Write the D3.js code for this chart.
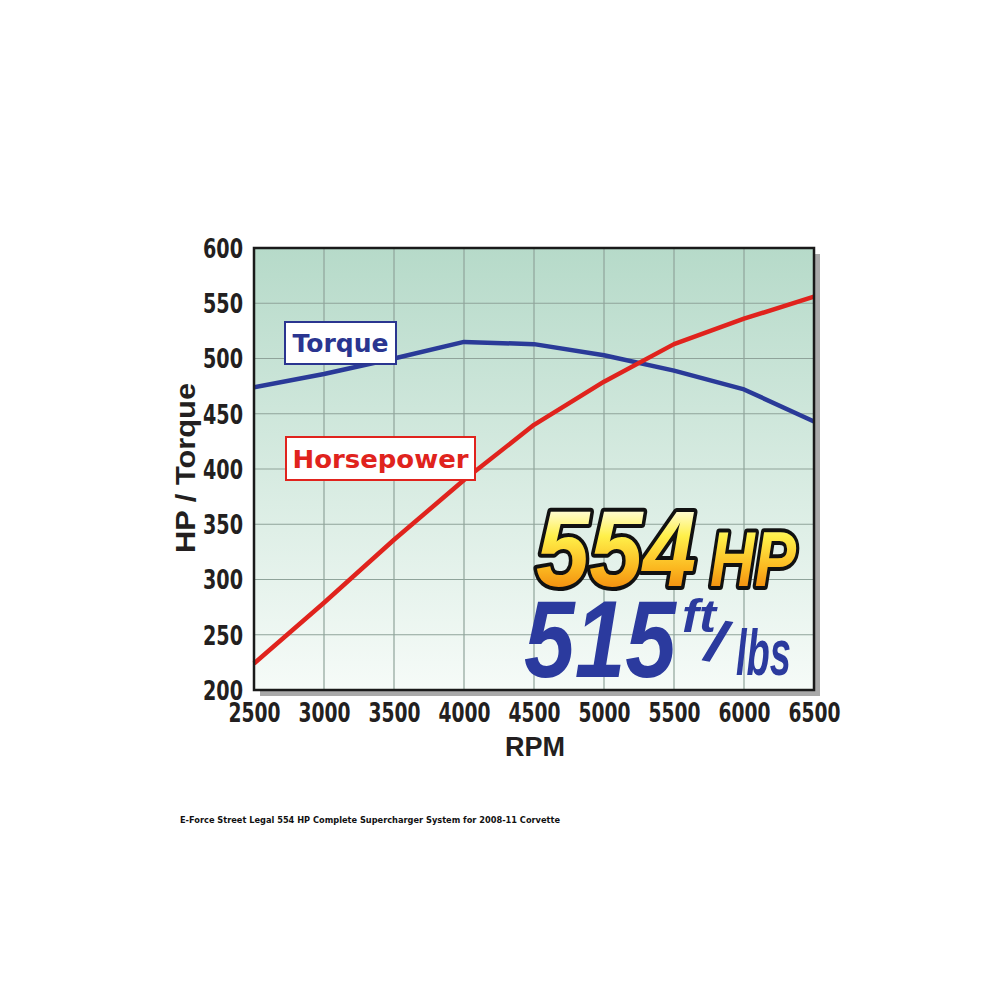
<!DOCTYPE html>
<html>
<head>
<meta charset="utf-8">
<script src="https://cdn.jsdelivr.net/npm/d3@7"></script>
<style>
  html, body { margin: 0; padding: 0; background: #ffffff; }
  svg { display: block; }
</style>
</head>
<body>
<div id="chart"></div>
<script>
// ---- data ----
const rpm = [2500, 3000, 3500, 4000, 4500, 5000, 5500, 6000, 6500];
const torque = [474, 486, 500, 515, 513, 503, 489, 472, 443];
const horsepower = [224, 279, 336, 390, 440, 479, 513, 536, 556];
const xTicks = [2500, 3000, 3500, 4000, 4500, 5000, 5500, 6000, 6500];
const yTicks = [200, 250, 300, 350, 400, 450, 500, 550, 600];
const seriesLabels = ["Torque", "Horsepower"];
const peakHP = "554";
const peakTorque = "515";
const footnote = "E-Force Street Legal 554 HP Complete Supercharger System for 2008-11 Corvette";

const W = 1001, H = 1001;
const plot = {left: 254, right: 814, top: 248, bottom: 690};

const svg = d3.select("#chart").append("svg")
  .attr("width", W).attr("height", H);

const defs = svg.append("defs");
const bg = defs.append("linearGradient").attr("id", "bgGrad")
  .attr("x1", 0).attr("y1", 0).attr("x2", 0).attr("y2", 1);
bg.append("stop").attr("offset", "0%").attr("stop-color", "#b6dac9");
bg.append("stop").attr("offset", "100%").attr("stop-color", "#f6fbf8");

const gold = defs.append("linearGradient").attr("id", "goldGrad")
  .attr("gradientUnits", "userSpaceOnUse")
  .attr("x1", 0).attr("y1", 508).attr("x2", 0).attr("y2", 588);
gold.append("stop").attr("offset", "0%").attr("stop-color", "#fffde0");
gold.append("stop").attr("offset", "35%").attr("stop-color", "#fff04a");
gold.append("stop").attr("offset", "75%").attr("stop-color", "#fbb820");
gold.append("stop").attr("offset", "100%").attr("stop-color", "#f39010");

const x = d3.scaleLinear().domain([2500, 6500]).range([plot.left, plot.right]);
const y = d3.scaleLinear().domain([200, 600]).range([plot.bottom, plot.top]);

// shadow
svg.append("rect")
  .attr("x", plot.left + 6).attr("y", plot.top + 6)
  .attr("width", plot.right - plot.left).attr("height", plot.bottom - plot.top)
  .attr("fill", "#a9a9a9");

// background
svg.append("rect")
  .attr("x", plot.left).attr("y", plot.top)
  .attr("width", plot.right - plot.left).attr("height", plot.bottom - plot.top)
  .attr("fill", "url(#bgGrad)");

// grid
const grid = svg.append("g");
grid.selectAll("line.v").data(xTicks).join("line")
  .attr("x1", d => x(d)).attr("x2", d => x(d))
  .attr("y1", plot.top).attr("y2", plot.bottom)
  .attr("stroke", "#8fa39a").attr("stroke-width", 1.2);
grid.selectAll("line.h").data(yTicks).join("line")
  .attr("x1", plot.left).attr("x2", plot.right)
  .attr("y1", d => y(d)).attr("y2", d => y(d))
  .attr("stroke", "#8fa39a").attr("stroke-width", 1.2);

// big headline text (single text element with tspans)
const narrow = "'Liberation Sans Narrow', 'Liberation Sans', sans-serif";
const big = svg.append("text")
  .attr("font-family", narrow)
  .attr("font-weight", "bold").attr("font-style", "italic");
big.append("tspan")
  .attr("x", 536).attr("y", 586).attr("font-size", 108)
  .attr("textLength", 160).attr("lengthAdjust", "spacingAndGlyphs")
  .attr("fill", "url(#goldGrad)")
  .attr("stroke", "#111").attr("stroke-width", 8).attr("stroke-linejoin", "round")
  .attr("paint-order", "stroke")
  .text(peakHP);
big.append("tspan")
  .attr("x", 710).attr("y", 586).attr("font-size", 78)
  .attr("textLength", 86).attr("lengthAdjust", "spacingAndGlyphs")
  .attr("fill", "url(#goldGrad)")
  .attr("stroke", "#111").attr("stroke-width", 8).attr("stroke-linejoin", "round")
  .attr("paint-order", "stroke")
  .text("HP");
big.append("tspan")
  .attr("x", 524).attr("y", 677).attr("font-size", 110)
  .attr("textLength", 152).attr("lengthAdjust", "spacingAndGlyphs")
  .attr("fill", "#2b3a9e")
  .text(peakTorque);
big.append("tspan")
  .attr("x", 682).attr("y", 632).attr("font-size", 46)
  .attr("textLength", 34).attr("lengthAdjust", "spacingAndGlyphs")
  .attr("fill", "#2b3a9e")
  .text("ft");
big.append("tspan")
  .attr("x", 705).attr("y", 659).attr("font-size", 56)
  .attr("rotate", 10)
  .attr("fill", "#2b3a9e")
  .attr("stroke", "#2b3a9e").attr("stroke-width", 1.5)
  .text("/");
big.append("tspan")
  .attr("x", 736).attr("y", 675).attr("font-size", 64)
  .attr("textLength", 55).attr("lengthAdjust", "spacingAndGlyphs")
  .attr("fill", "#2b3a9e")
  .text("lbs");

// lines
const line = d3.line().x((d, i) => x(rpm[i])).y(d => y(d));
svg.append("path").datum(torque)
  .attr("d", line).attr("fill", "none")
  .attr("stroke", "#2a3a98").attr("stroke-width", 4.5).attr("stroke-linejoin", "round");
svg.append("path").datum(horsepower)
  .attr("d", line).attr("fill", "none")
  .attr("stroke", "#e0231d").attr("stroke-width", 4.5).attr("stroke-linejoin", "round");

// legend boxes
const legends = [
  {label: seriesLabels[0], x: 285, y: 322, w: 111, h: 42, color: "#2a3590", len: 96},
  {label: seriesLabels[1], x: 286, y: 437, w: 189, h: 43, color: "#e0231d", len: 176}
];
const lg = svg.selectAll("g.legend").data(legends).join("g").attr("class", "legend");
lg.append("rect")
  .attr("x", d => d.x).attr("y", d => d.y).attr("width", d => d.w).attr("height", d => d.h)
  .attr("fill", "#ffffff").attr("stroke", d => d.color).attr("stroke-width", 2);
lg.append("text")
  .attr("x", d => d.x + d.w / 2).attr("y", d => d.y + d.h / 2 + 9)
  .attr("text-anchor", "middle")
  .attr("font-family", "'DejaVu Sans', sans-serif").attr("font-weight", "bold")
  .attr("font-size", 25)
  .attr("textLength", d => d.len).attr("lengthAdjust", "spacingAndGlyphs")
  .attr("fill", d => d.color)
  .text(d => d.label);

// border
svg.append("rect")
  .attr("x", plot.left).attr("y", plot.top)
  .attr("width", plot.right - plot.left).attr("height", plot.bottom - plot.top)
  .attr("fill", "none").attr("stroke", "#1a1a1a").attr("stroke-width", 2.5);

// axes
const tickFont = "'Liberation Sans Narrow', 'DejaVu Sans Condensed', sans-serif";
const yAxis = svg.append("g")
  .attr("transform", `translate(${plot.left},0)`)
  .call(d3.axisLeft(y).tickValues(yTicks).tickSize(0).tickPadding(11).tickFormat(d3.format("d")));
yAxis.select(".domain").remove();
yAxis.selectAll("text")
  .attr("font-family", tickFont).attr("font-weight", "bold").attr("font-size", 27)
  .attr("fill", "#231f20").attr("dy", "0.35em")
  .attr("textLength", 40).attr("lengthAdjust", "spacingAndGlyphs");

const xAxis = svg.append("g")
  .attr("transform", `translate(0,${plot.bottom})`)
  .call(d3.axisBottom(x).tickValues(xTicks).tickSize(0).tickPadding(13).tickFormat(d3.format("d")));
xAxis.select(".domain").remove();
xAxis.selectAll("text")
  .attr("font-family", tickFont).attr("font-weight", "bold").attr("font-size", 27)
  .attr("fill", "#231f20").attr("dy", "0.71em")
  .attr("textLength", 52).attr("lengthAdjust", "spacingAndGlyphs");

// axis titles
svg.append("text")
  .attr("x", 535).attr("y", 756)
  .attr("text-anchor", "middle")
  .attr("font-family", "'Liberation Sans', sans-serif").attr("font-weight", "bold")
  .attr("font-size", 27)
  .attr("textLength", 60).attr("lengthAdjust", "spacingAndGlyphs")
  .attr("fill", "#231f20")
  .text("RPM");
svg.append("text")
  .attr("transform", "translate(195,468) rotate(-90)")
  .attr("text-anchor", "middle")
  .attr("font-family", "'Liberation Sans', sans-serif").attr("font-weight", "bold")
  .attr("font-size", 27)
  .attr("textLength", 170).attr("lengthAdjust", "spacingAndGlyphs")
  .attr("fill", "#231f20")
  .text("HP / Torque");

// footnote
svg.append("text")
  .attr("x", 180).attr("y", 823)
  .attr("font-family", "'DejaVu Sans', Verdana, sans-serif").attr("font-weight", "bold")
  .attr("font-size", 8)
  .attr("textLength", 380).attr("lengthAdjust", "spacingAndGlyphs")
  .attr("fill", "#111")
  .text(footnote);
</script>
</body>
</html>
